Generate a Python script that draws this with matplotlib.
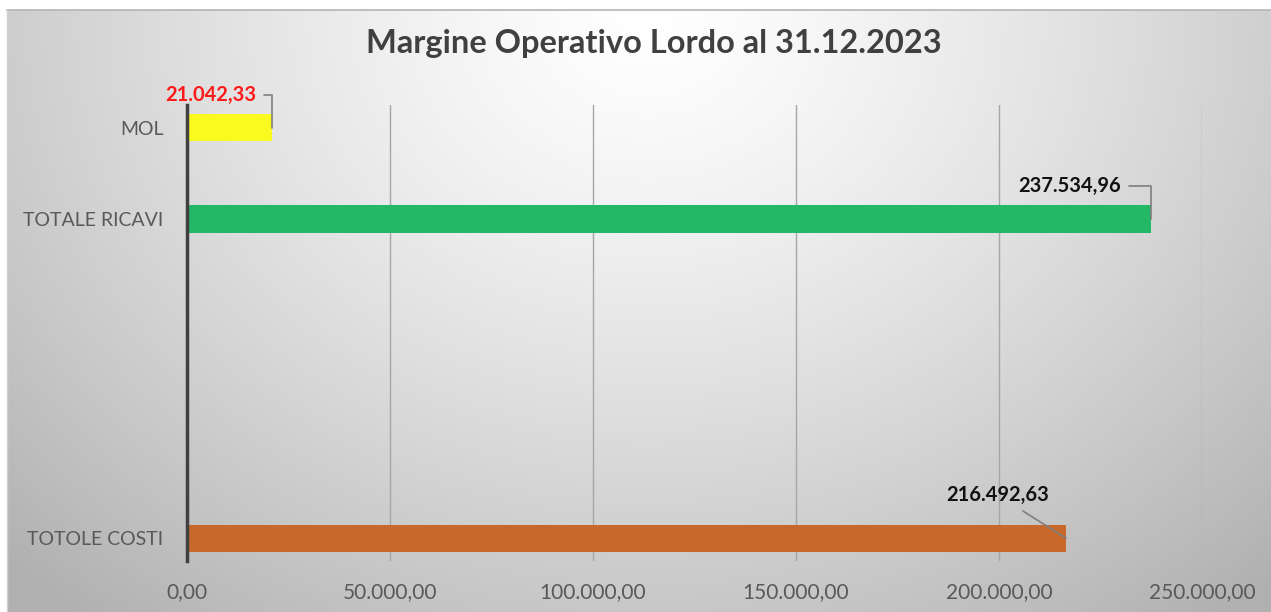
import numpy as np
import matplotlib
matplotlib.use("Agg")
import matplotlib.pyplot as plt
from matplotlib.ticker import FuncFormatter

# data
categories = ["TOTOLE COSTI", "TOTALE RICAVI", "MOL"]
values = [216492.63, 237534.96, 21042.33]
slots = [0, 7, 9]          # category slots (Excel leaves empty rows between)
bar_colors = ["#c8692b", "#23b866", "#fafa1e"]
label_colors = ["#111111", "#111111", "#ff1a1a"]
ticks = [0, 50000, 100000, 150000, 200000, 250000]
title = "Margine Operativo Lordo al 31.12.2023"

plt.rcParams["font.family"] = ["Lato", "DejaVu Sans"]


def it_fmt(v, _=None):
    s = f"{v:,.2f}"
    return s.replace(",", "X").replace(".", ",").replace("X", ".")


W, H = 1271, 612
fig = plt.figure(figsize=(W / 100, H / 100), dpi=100)
fig.patch.set_facecolor("white")

# chart area background: radial gradient white -> grey
bg = fig.add_axes([7 / W, 0, 1 - 7 / W, 1 - 10 / H], zorder=-10)
yy, xx = np.mgrid[0:602, 0:1264]
r = np.sqrt(((xx - 640) / 760.0) ** 2 + ((yy - 10) / 640.0) ** 2)
shade = 255 - 62 * np.clip(r, 0, 1.2) ** 1.3
img = np.dstack([shade, shade, shade]).astype(np.uint8)
bg.imshow(img, aspect="auto", extent=[0, 1, 0, 1], interpolation="bilinear")
bg.set_xlim(0, 1)
bg.set_ylim(0, 1)
bg.axis("off")
fig.add_artist(plt.Line2D([7 / W, 1], [1 - 10 / H, 1 - 10 / H], color="#b4b4b4", lw=1.2))
fig.add_artist(plt.Line2D([7 / W, 7 / W], [0, 1 - 10 / H], color="#d0d0d0", lw=1))

ax = fig.add_axes([187 / W, 1 - 561 / H, (1202 - 187) / W, (561 - 105) / H])
ax.set_facecolor("none")
ax.barh(slots, values, height=0.6, color=bar_colors, zorder=3)

ax.set_xlim(0, 250000)
ax.set_ylim(-0.5, 9.5)
ax.set_xticks(ticks)
ax.xaxis.set_major_formatter(FuncFormatter(lambda v, p: it_fmt(v)))
ax.set_yticks(slots)
ax.set_yticklabels(categories)
ax.tick_params(axis="both", length=0, colors="#595959")
ax.tick_params(axis="x", pad=15, labelsize=15)
ax.tick_params(axis="y", pad=17, labelsize=14)
ax.grid(axis="x", color="#a6a6a6", lw=1, zorder=1)
for s in ["top", "right", "bottom"]:
    ax.spines[s].set_visible(False)
ax.spines["left"].set_color("#404040")
ax.spines["left"].set_linewidth(2.5)
ax.spines["left"].set_zorder(4)

# data labels with leader lines
offsets = [(-68, 43), (-82, 33), (-62, 33)]
styles = ["arc3", "angle,angleA=0,angleB=90,rad=0", "angle,angleA=0,angleB=90,rad=0"]
for y, v, c, off, st in zip(slots, values, label_colors, offsets, styles):
    ax.annotate(it_fmt(v), xy=(v, y), xytext=off, textcoords="offset pixels",
                ha="center", va="center", fontsize=14.5, fontweight="bold", color=c,
                arrowprops=dict(arrowstyle="-", color="#7f7f7f", lw=1.2,
                                connectionstyle=st, shrinkA=4, shrinkB=0),
                zorder=5)

fig.text(654 / W, 1 - 43 / H, title, ha="center", va="center",
         fontsize=23.5, fontweight="bold", color="#404040")

fig.savefig("out.png", dpi=100)
